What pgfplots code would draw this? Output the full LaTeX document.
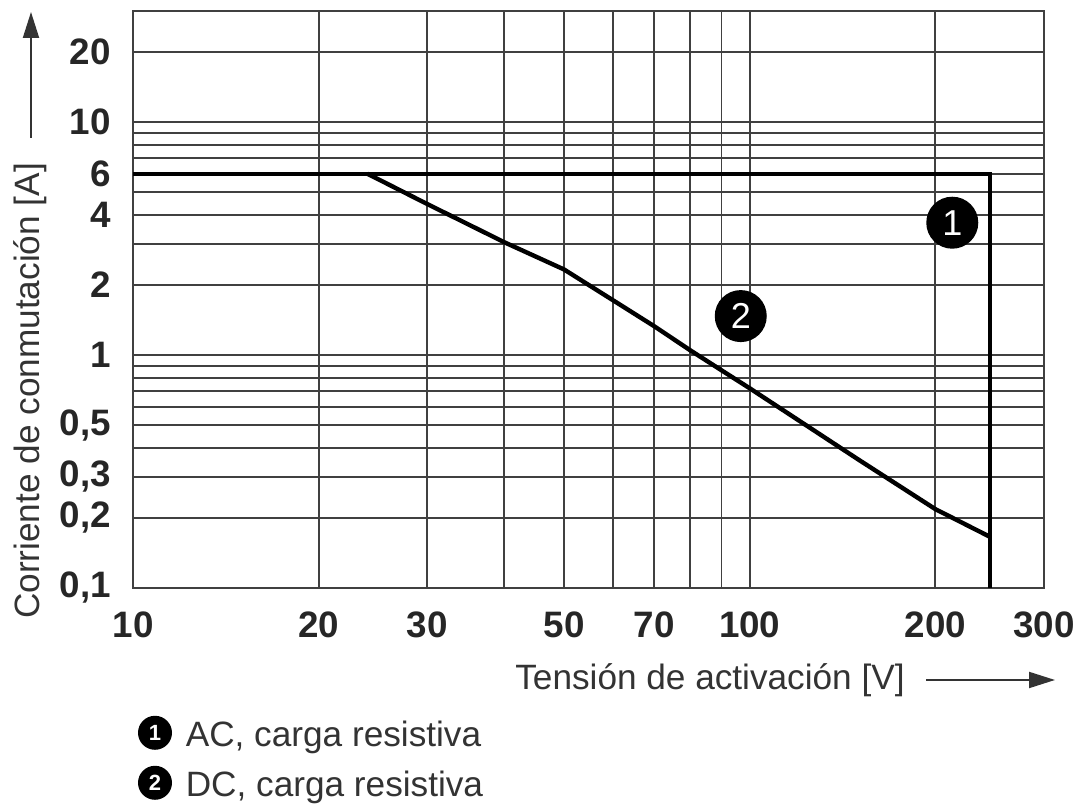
\documentclass[border=0pt]{standalone}
\usepackage{fontspec}
\setmainfont{Liberation Sans}
\usepackage{pgfplots}
\pgfplotsset{compat=1.18}
\usetikzlibrary{arrows.meta}

\definecolor{gridc}{gray}{0.25}
\definecolor{txt}{gray}{0.2}

\begin{document}
\begin{tikzpicture}[x=1pt,y=1pt]
\useasboundingbox (-33.25,-55.25) rectangle (237,147);
\begin{axis}[
    at={(0,0)}, anchor=south west,
    scale only axis,
    width=227.75pt, height=144.25pt,
    xmode=log, ymode=log,
    xmin=10, xmax=300,
    ymin=0.1, ymax=30,
    xtick={10,20,30,50,70,100,200,300},
    xticklabels={10,20,30,50,70,100,200,300},
    minor xtick={40,60,80,90},
    ytick={0.1,0.2,0.3,0.5,1,2,4,6,10,20},
    yticklabels={{0,1},{0,2},{0,3},{0,5},1,2,4,6,10,20},
    minor ytick={0.4,0.6,0.7,0.8,0.9,3,5,7,8,9},
    major tick length=0pt, minor tick length=0pt,
    grid=both,
    major grid style={gridc, line width=0.45pt},
    minor grid style={gridc, line width=0.45pt},
    axis line style={gridc, line width=0.45pt},
    tick label style={font=\fontsize{9.2}{10}\selectfont\bfseries, text=black!85},
    xticklabel style={yshift=-2.5pt},
    yticklabel style={xshift=-2pt},
    clip=false,
]
% 1: AC, carga resistiva
\addplot[black, line width=1.1pt] coordinates {
    (10,6) (245,6) (245,0.1)
};
% 2: DC, carga resistiva
\addplot[black, line width=1.1pt, line join=round] coordinates {
    (24,6) (30,4.45) (40,3.05) (50,2.33) (60,1.72) (70,1.33)
    (80,1.05) (90,0.86) (100,0.72) (150,0.356) (200,0.218) (245,0.166)
};
\node[circle, fill=black, text=white, minimum size=13pt, inner sep=0pt,
      font=\fontsize{9}{9}\selectfont] at (axis cs:213,3.7) {1};
\node[circle, fill=black, text=white, minimum size=13pt, inner sep=0pt,
      font=\fontsize{9}{9}\selectfont] at (axis cs:96.7,1.47) {2};
\end{axis}

% y axis label with arrow
\node[rotate=90, text=txt, font=\fontsize{8.8}{10}\selectfont] at (-25.75,49.25)
    {Corriente de conmutación [A]};
\draw[txt, line width=0.5pt, -{Triangle[length=6.5pt,width=4pt]}] (-25.5,112.5) -- (-25.5,144);

% x axis label with arrow
\node[anchor=base, text=txt, font=\fontsize{8.8}{10}\selectfont, inner sep=0pt] at (144.25,-25.5)
    {Tensión de activación [V]};
\draw[txt, line width=0.5pt, -{Triangle[length=6.5pt,width=4pt]}] (198.25,-23) -- (230.5,-23);

% key
\node[circle, fill=black, text=white, minimum size=8.5pt, inner sep=0pt,
      font=\fontsize{5.5}{5.5}\selectfont\bfseries] at (5.5,-36.2) {1};
\node[anchor=base west, inner sep=0pt, text=txt, font=\fontsize{8.8}{10}\selectfont] at (13,-39.75)
    {AC, carga resistiva};
\node[circle, fill=black, text=white, minimum size=8.5pt, inner sep=0pt,
      font=\fontsize{5.5}{5.5}\selectfont\bfseries] at (5.5,-48.7) {2};
\node[anchor=base west, inner sep=0pt, text=txt, font=\fontsize{8.8}{10}\selectfont] at (13,-52.25)
    {DC, carga resistiva};
\end{tikzpicture}
\end{document}
